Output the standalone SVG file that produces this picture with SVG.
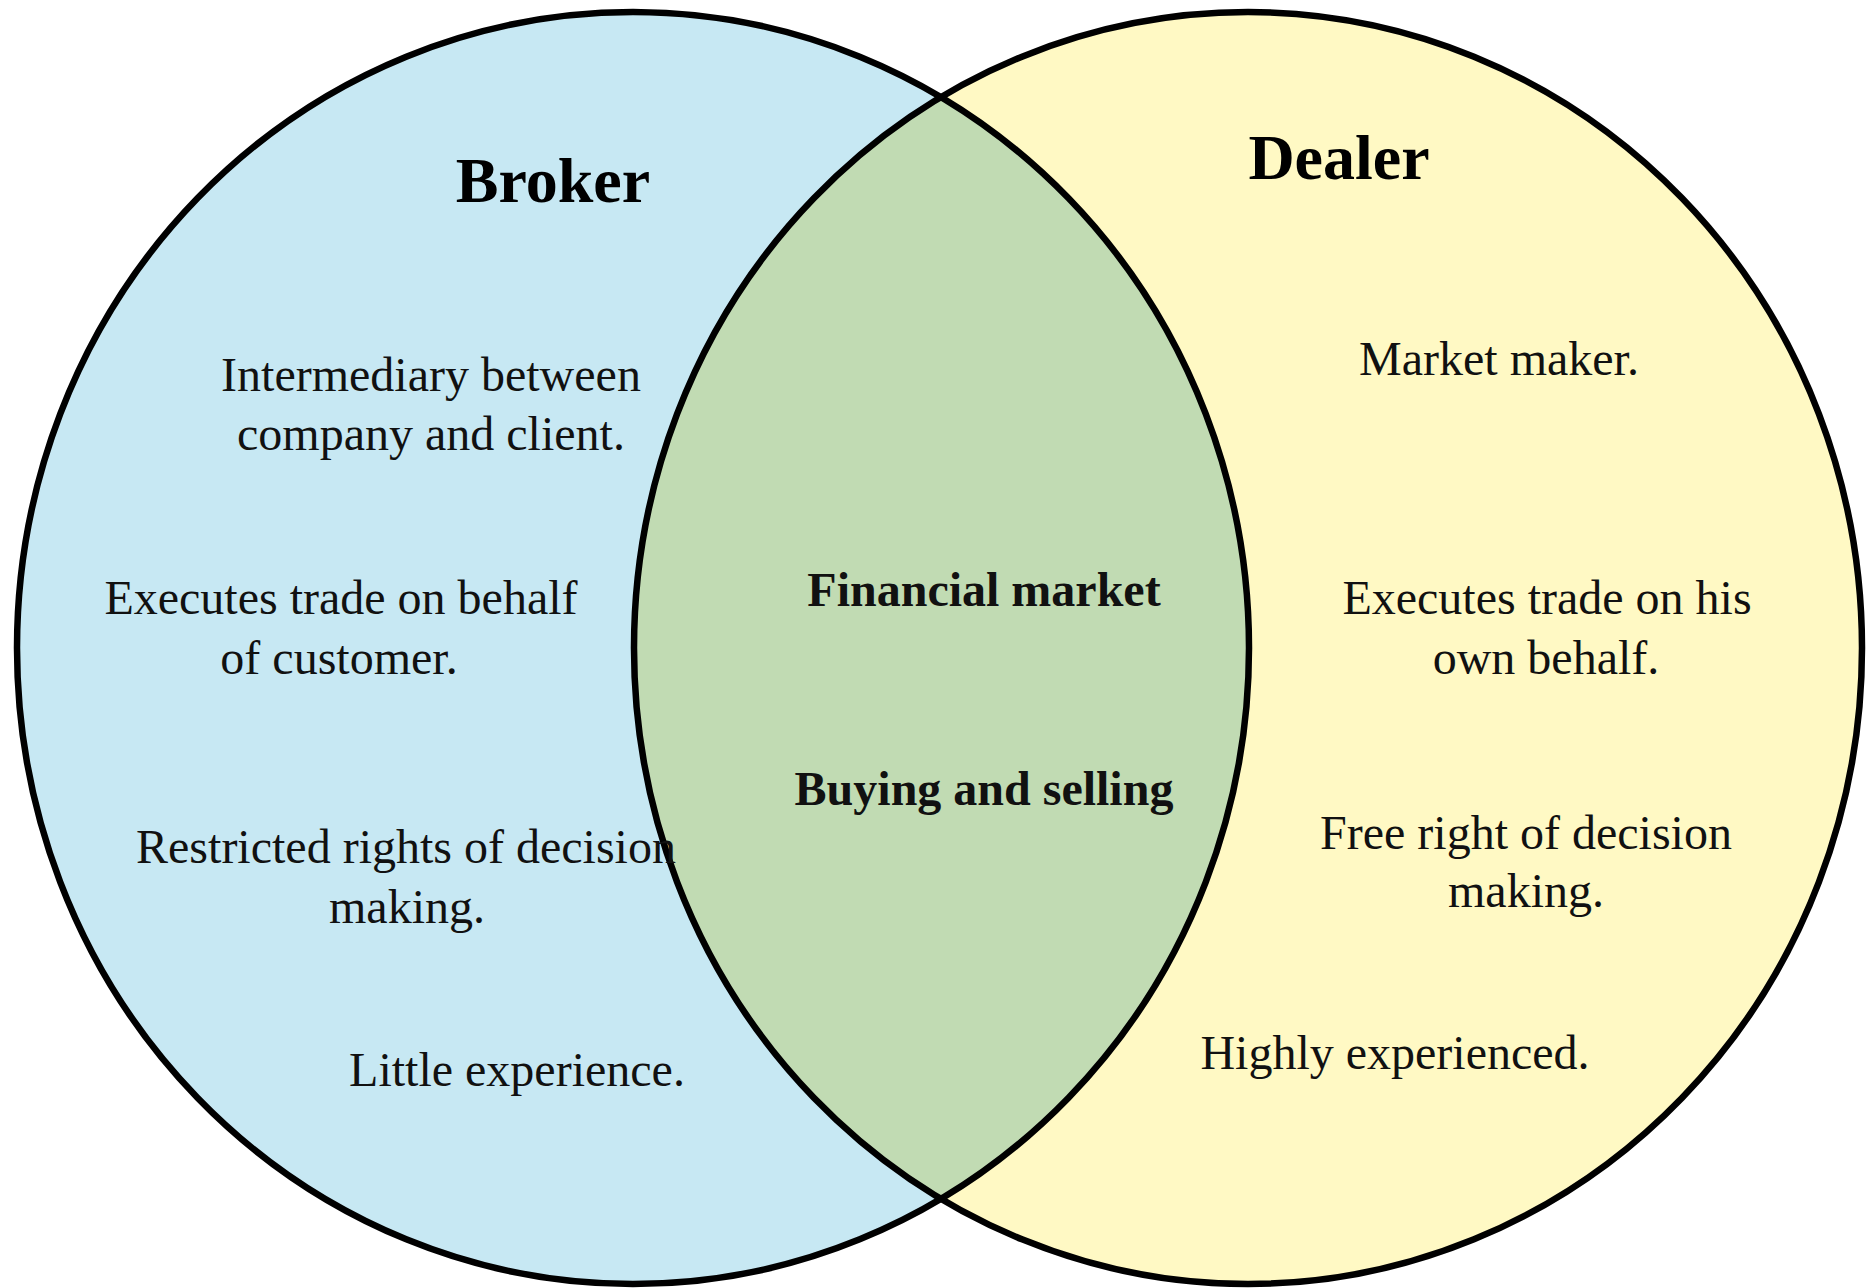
<svg xmlns="http://www.w3.org/2000/svg" width="1867" height="1288" viewBox="0 0 1867 1288">
  <style>
    .ring { stroke: #000; stroke-width: 6.5; fill: none; }
    .txt { font-family: "Liberation Serif", "Times New Roman", serif; font-size: 48px; fill: #111; text-anchor: middle; }
    .bold { font-weight: bold; }
    .title { font-family: "Liberation Serif", "Times New Roman", serif; font-size: 64px; font-weight: bold; fill: #000; text-anchor: middle; }
  </style>
  <defs>
    <clipPath id="clip-dealer">
      <ellipse cx="1248" cy="648" rx="614" ry="636"/>
    </clipPath>
  </defs>
  <rect width="1867" height="1288" fill="#ffffff"/>

  <!-- Broker set -->
  <g id="broker">
    <ellipse cx="633" cy="648" rx="616" ry="636" fill="#c7e8f3"/>
  </g>

  <!-- Dealer set -->
  <g id="dealer">
    <ellipse cx="1248" cy="648" rx="614" ry="636" fill="#fff9c4"/>
  </g>

  <!-- Shared area -->
  <g id="overlap">
    <ellipse cx="633" cy="648" rx="616" ry="636" fill="#c1dbb3" clip-path="url(#clip-dealer)"/>
  </g>

  <!-- Outlines -->
  <g id="connectors">
    <ellipse class="ring" cx="633" cy="648" rx="616" ry="636"/>
    <ellipse class="ring" cx="1248" cy="648" rx="614" ry="636"/>
  </g>

  <g id="broker-labels">
    <text class="title" x="553" y="202">Broker</text>
    <text class="txt" x="431" y="391">Intermediary between</text>
    <text class="txt" x="431" y="450">company and client.</text>
    <text class="txt" x="341" y="614">Executes trade on behalf</text>
    <text class="txt" x="339" y="674">of customer.</text>
    <text class="txt" x="406" y="863">Restricted rights of decision</text>
    <text class="txt" x="407" y="923">making.</text>
    <text class="txt" x="517" y="1086">Little experience.</text>
  </g>

  <g id="overlap-labels">
    <text class="txt bold" x="984" y="606">Financial market</text>
    <text class="txt bold" x="984" y="805">Buying and selling</text>
  </g>

  <g id="dealer-labels">
    <text class="title" x="1339" y="179">Dealer</text>
    <text class="txt" x="1499" y="375">Market maker.</text>
    <text class="txt" x="1547" y="614">Executes trade on his</text>
    <text class="txt" x="1546" y="674">own behalf.</text>
    <text class="txt" x="1526" y="849">Free right of decision</text>
    <text class="txt" x="1526" y="907">making.</text>
    <text class="txt" x="1395" y="1069">Highly experienced.</text>
  </g>
</svg>
